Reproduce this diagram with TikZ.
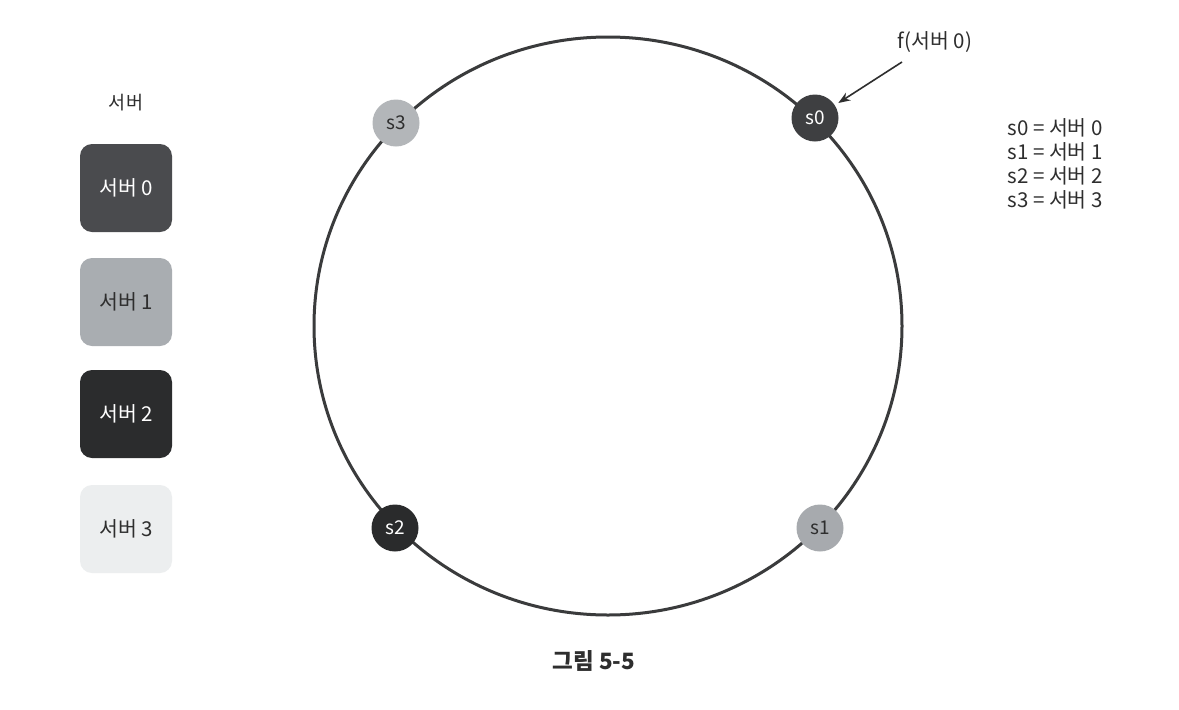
\documentclass[tikz,border=0pt]{standalone}
\usepackage{fontspec}
\setmainfont{Noto Sans CJK KR}
\usetikzlibrary{arrows.meta}
\definecolor{ringc}{HTML}{3A3B3C}
\definecolor{cA}{HTML}{4A4B4E}
\definecolor{cB}{HTML}{A9ADB1}
\definecolor{cC}{HTML}{2B2C2D}
\definecolor{cD}{HTML}{ECEEEF}
\definecolor{nA}{HTML}{3E3F41}
\definecolor{nB}{HTML}{A7AAAE}
\definecolor{nC}{HTML}{2A2B2C}
\definecolor{nD}{HTML}{B3B6B9}
\definecolor{txt}{HTML}{2E2E2E}
\tikzset{
  legbox/.style={rounded corners=12pt, minimum width=92pt, minimum height=88pt, inner sep=0pt, font=\fontsize{20.5}{22}\selectfont},
  srv/.style={circle, minimum size=47pt, inner sep=0pt, font=\fontsize{19}{20}\selectfont},
  lbl/.style={font=\fontsize{20.5}{24}\selectfont, text=txt},
}
\begin{document}
\begin{tikzpicture}[x=1pt,y=-1pt]
\useasboundingbox (0,0) rectangle (1179,710);
\fill[white] (0,0) rectangle (1179,710);
% legend
\node[lbl, font=\fontsize{18.5}{20}\selectfont] (title) at (126,103) {서버};
\node[legbox, fill=cA, text=white] (b0) at (126,188) {서버 0};
\node[legbox, fill=cB, text=txt] (b1) at (126,302) {서버 1};
\node[legbox, fill=cC, text=white] (b2) at (126,414) {서버 2};
\node[legbox, fill=cD, text=txt] (b3) at (126,529) {서버 3};
% ring
\draw[ringc, line width=3pt] (608,326) ellipse [x radius=294, y radius=289];
\node[srv, fill=nA, text=white] (s0) at (815,118) {s0};
\node[srv, fill=nB, text=txt] (s1) at (820,528) {s1};
\node[srv, fill=nC, text=white] (s2) at (395,528) {s2};
\node[srv, fill=nD, text=txt] (s3) at (396,123) {s3};
% annotation
\node[lbl] (f) at (935,42) {f(서버 0)};
\coordinate (fa) at (902,62);
\draw[txt, line width=1.6pt, -{Stealth[length=12pt,width=9pt]}, shorten >=4pt] (fa) -- (s0);
% key
\node[lbl, anchor=west] (k0) at (1004,128) {s0 = 서버 0};
\node[lbl, anchor=west] (k1) at (1004,152) {s1 = 서버 1};
\node[lbl, anchor=west] (k2) at (1004,176) {s2 = 서버 2};
\node[lbl, anchor=west] (k3) at (1004,200) {s3 = 서버 3};
% caption
\node[font=\fontsize{22.5}{24}\selectfont\bfseries, text=txt] (cap) at (594,661) {그림 5-5};
\end{tikzpicture}
\end{document}
